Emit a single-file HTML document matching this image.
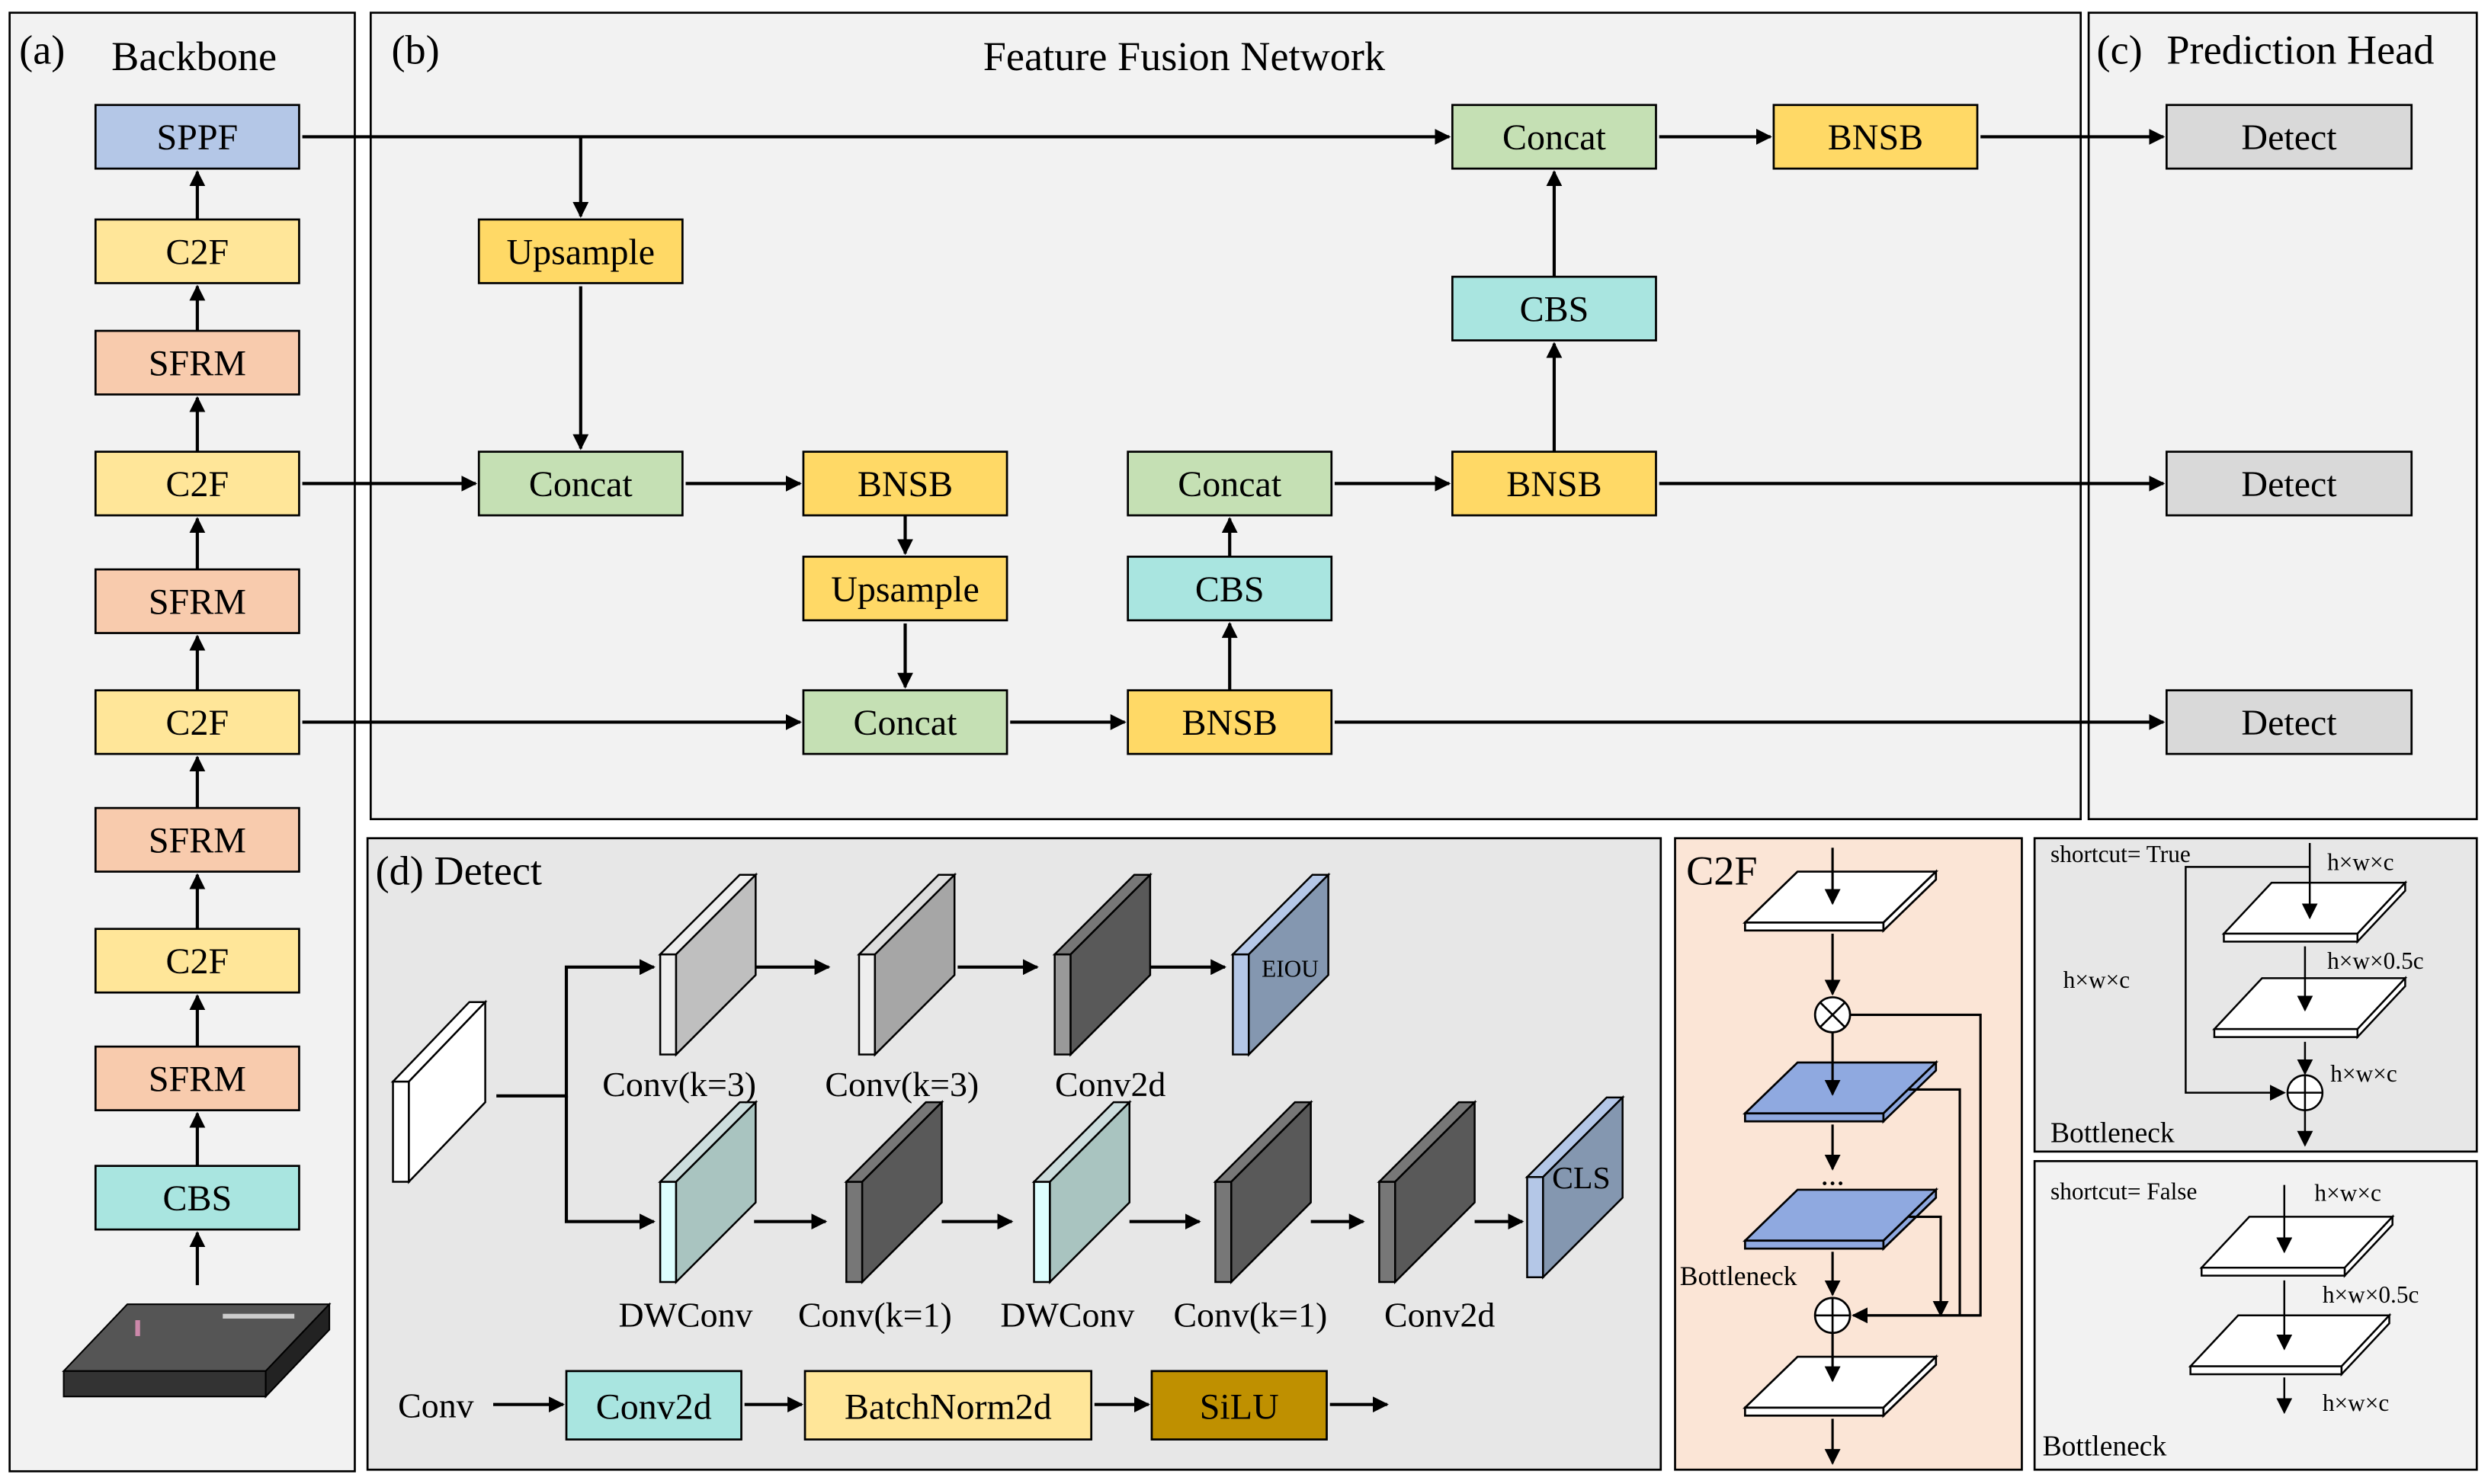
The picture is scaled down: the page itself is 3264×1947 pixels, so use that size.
<!DOCTYPE html>
<html><head><meta charset="utf-8"><style>html,body{margin:0;padding:0;background:#fff}svg{display:block}svg text{font-family:"Liberation Serif","Times New Roman",serif}</style></head><body>
<svg xmlns="http://www.w3.org/2000/svg" width="3264" height="1947" viewBox="0 0 1564 933">
<defs><marker id="a" markerWidth="10" markerHeight="10" refX="9" refY="5" orient="auto" markerUnits="userSpaceOnUse"><path d="M0,0 L10,5 L0,10 z" fill="#000"/></marker></defs>
<rect width="1564" height="933" fill="#fff"/>
<g stroke="#000" stroke-width="1.3">
<rect x="6" y="8" width="217" height="917" fill="#f2f2f2"/>
<rect x="233" y="8" width="1075" height="507" fill="#f2f2f2"/>
<rect x="1313" y="8" width="244" height="507" fill="#f2f2f2"/>
<rect x="231" y="527" width="813" height="397" fill="#e7e7e7"/>
<rect x="1053" y="527" width="218" height="397" fill="#fbe5d6"/>
<rect x="1279" y="527" width="278" height="197" fill="#e7e7e7"/>
<rect x="1279" y="730" width="278" height="194" fill="#f2f2f2"/>
</g>
<g font-size="26">
<text x="12" y="40">(a)</text><text x="70" y="44">Backbone</text>
<text x="246" y="40">(b)</text><text x="618" y="44">Feature Fusion Network</text>
<text x="1318" y="40">(c)</text><text x="1362" y="40">Prediction Head</text>
<text x="236" y="556">(d) Detect</text><text x="1060" y="556">C2F</text>
</g>
<g stroke="#000" stroke-width="1.3" font-size="23" text-anchor="middle">
<g>
<rect x="60" y="66" width="128" height="40" fill="#b4c7e7"/><text x="124" y="94" stroke="none">SPPF</text>
<rect x="60" y="138" width="128" height="40" fill="#ffe699"/><text x="124" y="166" stroke="none">C2F</text>
<rect x="60" y="208" width="128" height="40" fill="#f8cbad"/><text x="124" y="236" stroke="none">SFRM</text>
<rect x="60" y="284" width="128" height="40" fill="#ffe699"/><text x="124" y="312" stroke="none">C2F</text>
<rect x="60" y="358" width="128" height="40" fill="#f8cbad"/><text x="124" y="386" stroke="none">SFRM</text>
<rect x="60" y="434" width="128" height="40" fill="#ffe699"/><text x="124" y="462" stroke="none">C2F</text>
<rect x="60" y="508" width="128" height="40" fill="#f8cbad"/><text x="124" y="536" stroke="none">SFRM</text>
<rect x="60" y="584" width="128" height="40" fill="#ffe699"/><text x="124" y="612" stroke="none">C2F</text>
<rect x="60" y="658" width="128" height="40" fill="#f8cbad"/><text x="124" y="686" stroke="none">SFRM</text>
<rect x="60" y="733" width="128" height="40" fill="#a9e5e0"/><text x="124" y="761" stroke="none">CBS</text>
</g>
<rect x="301" y="138" width="128" height="40" fill="#ffd966"/><text x="365" y="166" stroke="none">Upsample</text>
<rect x="301" y="284" width="128" height="40" fill="#c5e0b4"/><text x="365" y="312" stroke="none">Concat</text>
<rect x="505" y="284" width="128" height="40" fill="#ffd966"/><text x="569" y="312" stroke="none">BNSB</text>
<rect x="505" y="350" width="128" height="40" fill="#ffd966"/><text x="569" y="378" stroke="none">Upsample</text>
<rect x="505" y="434" width="128" height="40" fill="#c5e0b4"/><text x="569" y="462" stroke="none">Concat</text>
<rect x="709" y="434" width="128" height="40" fill="#ffd966"/><text x="773" y="462" stroke="none">BNSB</text>
<rect x="709" y="350" width="128" height="40" fill="#a9e5e0"/><text x="773" y="378" stroke="none">CBS</text>
<rect x="709" y="284" width="128" height="40" fill="#c5e0b4"/><text x="773" y="312" stroke="none">Concat</text>
<rect x="913" y="284" width="128" height="40" fill="#ffd966"/><text x="977" y="312" stroke="none">BNSB</text>
<rect x="913" y="174" width="128" height="40" fill="#a9e5e0"/><text x="977" y="202" stroke="none">CBS</text>
<rect x="913" y="66" width="128" height="40" fill="#c5e0b4"/><text x="977" y="94" stroke="none">Concat</text>
<rect x="1115" y="66" width="128" height="40" fill="#ffd966"/><text x="1179" y="94" stroke="none">BNSB</text>
<rect x="1362" y="66" width="154" height="40" fill="#d9d9d9"/><text x="1439" y="94" stroke="none">Detect</text>
<rect x="1362" y="284" width="154" height="40" fill="#d9d9d9"/><text x="1439" y="312" stroke="none">Detect</text>
<rect x="1362" y="434" width="154" height="40" fill="#d9d9d9"/><text x="1439" y="462" stroke="none">Detect</text>
<rect x="356" y="862" width="110" height="43" fill="#a9e5e0"/><text x="411" y="892" stroke="none">Conv2d</text>
<rect x="506" y="862" width="180" height="43" fill="#ffe699"/><text x="596" y="892" stroke="none">BatchNorm2d</text>
<rect x="724" y="862" width="110" height="43" fill="#bf9000"/><text x="779" y="892" stroke="none">SiLU</text>
</g>
<g stroke="#000" stroke-width="2" fill="none" marker-end="url(#a)">
<path d="M124,138V108"/><path d="M124,208V180"/><path d="M124,284V250"/><path d="M124,358V326"/><path d="M124,434V400"/><path d="M124,508V476"/><path d="M124,584V550"/><path d="M124,658V626"/><path d="M124,733V700"/><path d="M124,808V775"/>
<path d="M190,86H911"/><path d="M365,86V136"/><path d="M365,180V282"/>
<path d="M190,304H299"/><path d="M431,304H503"/><path d="M569,324V348"/><path d="M569,392V432"/>
<path d="M190,454H503"/><path d="M635,454H707"/><path d="M773,434V392"/><path d="M773,350V326"/>
<path d="M839,304H911"/><path d="M977,284V216"/><path d="M977,174V108"/><path d="M1043,86H1113"/><path d="M1245,86H1360"/>
<path d="M1043,304H1360"/><path d="M839,454H1360"/>
<path d="M312,689H356V608H411"/><path d="M356,689V768H411"/>
<path d="M474,608H521"/><path d="M602,608H652"/><path d="M722,608H770"/>
<path d="M474,768H519"/><path d="M592,768H636"/><path d="M710,768H754"/><path d="M824,768H857"/><path d="M927,768H957"/>
<path d="M310,883H354"/><path d="M468,883H504"/><path d="M688,883H722"/><path d="M836,883H872"/>
</g>
<polygon points="40,862 80,820 207,820 167,862" fill="#555" stroke="#000"/>
<rect x="40" y="862" width="127" height="16" fill="#333" stroke="#000"/>
<polygon points="167,862 207,820 207,836 167,878" fill="#222" stroke="#000"/>
<rect x="140" y="826" width="45" height="3" fill="#ccc"/><rect x="85" y="830" width="3" height="10" fill="#c8a"/>
<g stroke="#000" stroke-width="1.2" font-size="22" text-anchor="middle">
<g><polygon points="247,680 257,680 257,743 247,743" fill="#fff"/><polygon points="247,680 295,630 305,630 257,680" fill="#fff"/><polygon points="257,680 305,630 305,693 257,743" fill="#fff"/></g>
<polygon points="415,600 425,600 425,663 415,663" fill="#eee"/><polygon points="415,600 465,550 475,550 425,600" fill="#eee"/><polygon points="425,600 475,550 475,613 425,663" fill="#bfbfbf"/>
<polygon points="540,600 550,600 550,663 540,663" fill="#eee"/><polygon points="540,600 590,550 600,550 550,600" fill="#ddd"/><polygon points="550,600 600,550 600,613 550,663" fill="#a6a6a6"/>
<polygon points="663,600 673,600 673,663 663,663" fill="#999"/><polygon points="663,600 713,550 723,550 673,600" fill="#777"/><polygon points="673,600 723,550 723,613 673,663" fill="#595959"/>
<polygon points="775,600 785,600 785,663 775,663" fill="#b4c7e7"/><polygon points="775,600 825,550 835,550 785,600" fill="#b4c7e7"/><polygon points="785,600 835,550 835,613 785,663" fill="#8497b0"/>
<polygon points="415,743 425,743 425,806 415,806" fill="#dff"/><polygon points="415,743 465,693 475,693 425,743" fill="#cdd"/><polygon points="425,743 475,693 475,756 425,806" fill="#a9c4c0"/>
<polygon points="532,743 542,743 542,806 532,806" fill="#777"/><polygon points="532,743 582,693 592,693 542,743" fill="#777"/><polygon points="542,743 592,693 592,756 542,806" fill="#595959"/>
<polygon points="650,743 660,743 660,806 650,806" fill="#dff"/><polygon points="650,743 700,693 710,693 660,743" fill="#cdd"/><polygon points="660,743 710,693 710,756 660,806" fill="#a9c4c0"/>
<polygon points="764,743 774,743 774,806 764,806" fill="#777"/><polygon points="764,743 814,693 824,693 774,743" fill="#777"/><polygon points="774,743 824,693 824,756 774,806" fill="#595959"/>
<polygon points="867,743 877,743 877,806 867,806" fill="#777"/><polygon points="867,743 917,693 927,693 877,743" fill="#777"/><polygon points="877,743 927,693 927,756 877,806" fill="#595959"/>
<polygon points="960,740 970,740 970,803 960,803" fill="#b4c7e7"/><polygon points="960,740 1010,690 1020,690 970,740" fill="#b4c7e7"/><polygon points="970,740 1020,690 1020,753 970,803" fill="#8497b0"/>
<g stroke="none"><text x="427" y="689">Conv(k=3)</text><text x="567" y="689">Conv(k=3)</text><text x="698" y="689">Conv2d</text>
<text x="431" y="834">DWConv</text><text x="550" y="834">Conv(k=1)</text><text x="671" y="834">DWConv</text><text x="786" y="834">Conv(k=1)</text><text x="905" y="834">Conv2d</text>
<text x="811" y="614" font-size="15">EIOU</text><text x="994" y="747" font-size="20">CLS</text>
<text x="274" y="891">Conv</text></g>
</g>
<g stroke="#000" stroke-width="1.3">
<g fill="#fff"><polygon points="1097,580 1130,548 1217,548 1184,580"/><rect x="1097" y="580" width="87" height="5"/><polygon points="1184,580 1217,548 1217,553 1184,585"/></g>
<g fill="#8fa9e0"><polygon points="1097,700 1130,668 1217,668 1184,700"/><rect x="1097" y="700" width="87" height="5"/><polygon points="1184,700 1217,668 1217,673 1184,705"/></g>
<g fill="#8fa9e0"><polygon points="1097,780 1130,748 1217,748 1184,780"/><rect x="1097" y="780" width="87" height="5"/><polygon points="1184,780 1217,748 1217,753 1184,785"/></g>
<g fill="#fff"><polygon points="1097,885 1130,853 1217,853 1184,885"/><rect x="1097" y="885" width="87" height="5"/><polygon points="1184,885 1217,853 1217,858 1184,890"/></g>
<circle cx="1152" cy="638" r="11" fill="#fff"/><path d="M1144,630L1160,646M1160,630L1144,646"/>
<circle cx="1152" cy="827" r="11" fill="#fff"/><path d="M1141,827H1163M1152,816V838"/>
</g>
<g stroke="#000" stroke-width="1.5" fill="none" marker-end="url(#a)">
<path d="M1152,533V568"/><path d="M1152,587V625"/><path d="M1152,649V688"/><path d="M1152,707V735"/><path d="M1152,787V814"/><path d="M1152,838V868"/><path d="M1152,892V920"/>
<path d="M1163,638H1245V827H1165" marker-end="none"/><path d="M1200,685H1232V827" marker-end="none"/><path d="M1200,765H1220V827"/>
<path d="M1245,827H1165"/>
</g>
<text x="1152" y="745" font-size="20" text-anchor="middle">...</text>
<text x="1056" y="808" font-size="17">Bottleneck</text>
<g stroke="#000" stroke-width="1.2">
<g fill="#fff"><polygon points="1398,587 1428,555 1512,555 1482,587"/><rect x="1398" y="587" width="84" height="5"/><polygon points="1482,587 1512,555 1512,560 1482,592"/></g>
<g fill="#fff"><polygon points="1392,647 1422,615 1512,615 1482,647"/><rect x="1392" y="647" width="90" height="5"/><polygon points="1482,647 1512,615 1512,620 1482,652"/></g>
<circle cx="1449" cy="687" r="11" fill="#fff"/><path d="M1438,687H1460M1449,676V698"/>
<g fill="#fff"><polygon points="1384,797 1414,765 1504,765 1474,797"/><rect x="1384" y="797" width="90" height="5"/><polygon points="1474,797 1504,765 1504,770 1474,802"/></g>
<g fill="#fff"><polygon points="1377,859 1407,827 1502,827 1472,859"/><rect x="1377" y="859" width="95" height="5"/><polygon points="1472,859 1502,827 1502,832 1472,864"/></g>
</g>
<g stroke="#000" stroke-width="1.2" fill="none" marker-end="url(#a)">
<path d="M1452,530V577"/><path d="M1449,595V635"/><path d="M1449,655V675"/><path d="M1449,698V720"/>
<path d="M1452,545H1374V687H1436"/>
<path d="M1436,745V787"/><path d="M1436,805V848"/><path d="M1436,866V888"/>
</g>
<g font-size="15">
<text x="1289" y="542">shortcut= True</text><text x="1463" y="547">h×w×c</text><text x="1297" y="621">h×w×c</text><text x="1463" y="609">h×w×0.5c</text><text x="1465" y="680">h×w×c</text>
<text x="1289" y="754">shortcut= False</text><text x="1455" y="755">h×w×c</text><text x="1460" y="819">h×w×0.5c</text><text x="1460" y="887">h×w×c</text>
</g>
<text x="1289" y="718" font-size="18">Bottleneck</text><text x="1284" y="915" font-size="18">Bottleneck</text>
</svg>
</body></html>
